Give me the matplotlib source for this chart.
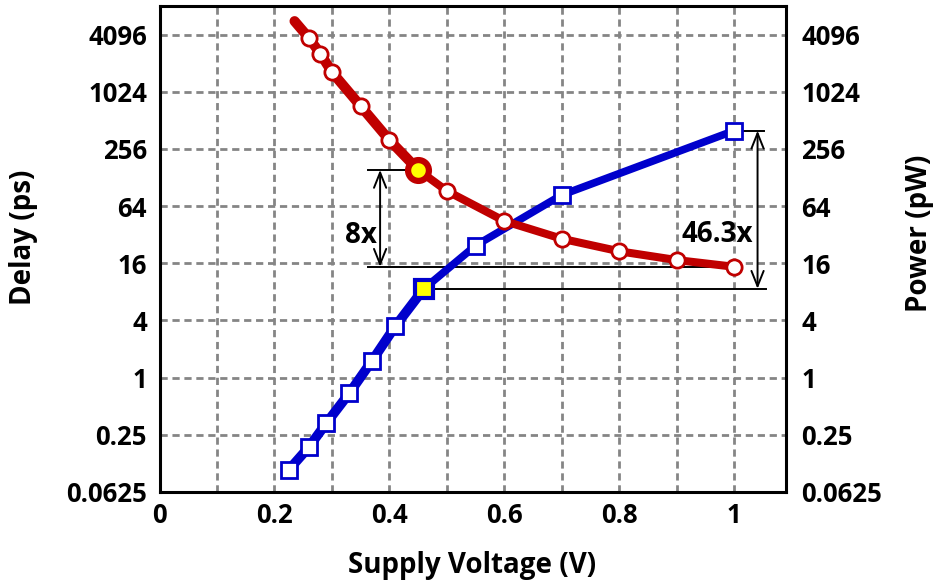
import matplotlib
matplotlib.use("Agg")
import matplotlib.pyplot as plt
from matplotlib.ticker import FixedLocator, FixedFormatter, NullLocator

# Delay of the circuit versus supply voltage (ps)
delay_v = [0.235, 0.26, 0.28, 0.30, 0.35, 0.40, 0.45, 0.50, 0.60, 0.70, 0.80, 0.90, 1.00]
delay_ps = [5672, 3770, 2574, 1652, 724, 317, 154, 92.4, 44.6, 29.0, 21.4, 17.3, 14.7]
delay_marked = slice(1, None)     # first point is the line end, drawn without a marker
delay_hi_idx = 6                  # highlighted operating point (0.45 V)

# Power versus supply voltage (pW)
power_v = [0.225, 0.26, 0.29, 0.33, 0.37, 0.41, 0.46, 0.55, 0.70, 1.00]
power_pw = [0.107, 0.186, 0.33, 0.683, 1.51, 3.46, 8.62, 24.6, 83.9, 399]
power_hi_idx = 6                  # highlighted operating point (0.46 V)

x_ticks = [0, 0.2, 0.4, 0.6, 0.8, 1.0]
x_tick_labels = ["0", "0.2", "0.4", "0.6", "0.8", "1"]
y_ticks = [0.0625, 0.25, 1, 4, 16, 64, 256, 1024, 4096]
y_tick_labels = ["0.0625", "0.25", "1", "4", "16", "64", "256", "1024", "4096"]

RED = "#C00000"
BLUE = "#0000CC"
YELLOW = "#FFFF00"

plt.rcParams["font.family"] = ["Open Sans", "DejaVu Sans"]
plt.rcParams["font.weight"] = "bold"

TICK_FS = 18.5
TITLE_FS = 20

fig = plt.figure(figsize=(9.36, 5.86), dpi=100)
ax = fig.add_axes([159.5 / 936, 1 - 492 / 586, (786 - 159.5) / 936, (492 - 6) / 586])

ax.set_yscale("log", base=2)
ax.set_xlim(0, 1.09)
ax.set_ylim(2 ** -4, 2 ** 13)

# grid: every 0.1 V and every factor of 4
ax.xaxis.set_major_locator(FixedLocator(x_ticks))
ax.xaxis.set_major_formatter(FixedFormatter(x_tick_labels))
ax.xaxis.set_minor_locator(FixedLocator([0.1, 0.3, 0.5, 0.7, 0.9]))
ax.yaxis.set_major_locator(FixedLocator(y_ticks))
ax.yaxis.set_major_formatter(FixedFormatter(y_tick_labels))
ax.yaxis.set_minor_locator(NullLocator())
grid_kw = dict(color="#858585", linewidth=2.0, linestyle=(0, (2.6, 1.7)), zorder=0.5)
ax.grid(True, which="both", axis="x", **grid_kw)
ax.grid(True, which="major", axis="y", **grid_kw)
ax.set_axisbelow(True)

for s in ax.spines.values():
    s.set_linewidth(2.2)
    s.set_color("black")

ax.tick_params(axis="both", which="both", length=0, labelsize=TICK_FS)
ax.tick_params(axis="x", pad=7)
ax.tick_params(axis="y", pad=9)

# curves
ax.plot(power_v, power_pw, color=BLUE, lw=5.5, solid_capstyle="round", zorder=2)
ax.plot(power_v[:power_hi_idx + 1], power_pw[:power_hi_idx + 1], color=BLUE, lw=7,
        solid_capstyle="round", zorder=2)
ax.plot(delay_v, delay_ps, color=RED, lw=5.8, solid_capstyle="round", zorder=2.1)
ax.plot(delay_v[:delay_hi_idx + 1], delay_ps[:delay_hi_idx + 1], color=RED, lw=7.3,
        solid_capstyle="round", zorder=2.1)

ax.plot(power_v, power_pw, ls="none", marker="s", ms=11.5, mew=2,
        mfc="white", mec=BLUE, zorder=3)
ax.plot(delay_v[delay_marked], delay_ps[delay_marked], ls="none", marker="o", ms=11, mew=2,
        mfc="white", mec=RED, zorder=3.1)

ax.plot([power_v[power_hi_idx]], [power_pw[power_hi_idx]], ls="none", marker="s",
        ms=13.5, mew=3, mfc=YELLOW, mec=BLUE, zorder=4)
ax.plot([delay_v[delay_hi_idx]], [delay_ps[delay_hi_idx]], ls="none", marker="o",
        ms=15, mew=4.5, mfc=YELLOW, mec=RED, zorder=4)

# ratio annotations
line_kw = dict(color="black", lw=1.4, zorder=1.5)
d_hi, d_end = delay_ps[delay_hi_idx], delay_ps[-1]
p_hi, p_end = power_pw[power_hi_idx], power_pw[-1]

ax.plot([0.3635, delay_v[delay_hi_idx]], [d_hi, d_hi], **line_kw)
ax.plot([0.3635, delay_v[-1]], [d_end, d_end], **line_kw)
ax.plot([power_v[-1], 1.052], [p_end, p_end], **line_kw)
ax.plot([power_v[power_hi_idx], 1.056], [p_hi, p_hi], **line_kw)

arrow_kw = dict(arrowstyle="<->,head_length=0.55,head_width=0.22", color="black",
                lw=1.4, shrinkA=0, shrinkB=0, mutation_scale=20)
ax.annotate("", xy=(0.3838, d_hi), xytext=(0.3838, d_end), arrowprops=arrow_kw, zorder=1.6)
ax.annotate("", xy=(1.0405, p_end), xytext=(1.0405, p_hi), arrowprops=arrow_kw, zorder=1.6)

ax.text(0.351, 31.5, "8x", ha="center", va="center", fontsize=20, fontweight="bold")
ax.text(0.9696, 31.8, "46.3x", ha="center", va="center", fontsize=20, fontweight="bold")

# right-hand power axis shares the same log scale
ax2 = ax.twinx()
ax2.set_yscale("log", base=2)
ax2.set_ylim(ax.get_ylim())
ax2.yaxis.set_major_locator(FixedLocator(y_ticks))
ax2.yaxis.set_major_formatter(FixedFormatter(y_tick_labels))
ax2.yaxis.set_minor_locator(NullLocator())
ax2.tick_params(axis="y", which="both", length=0, labelsize=TICK_FS, pad=11)
for s in ax2.spines.values():
    s.set_visible(False)

fig.text(23 / 936, 1 - 237 / 586, "Delay (ps)", rotation=90, ha="center", va="center",
         fontsize=TITLE_FS, fontweight="bold")
fig.text(920 / 936, 1 - 233 / 586, "Power (pW)", rotation=90, ha="center", va="center",
         fontsize=TITLE_FS, fontweight="bold")
fig.text(472 / 936, 1 - 565 / 586, "Supply Voltage (V)", ha="center", va="center",
         fontsize=TITLE_FS, fontweight="bold")

fig.savefig("out.png", dpi=100)
